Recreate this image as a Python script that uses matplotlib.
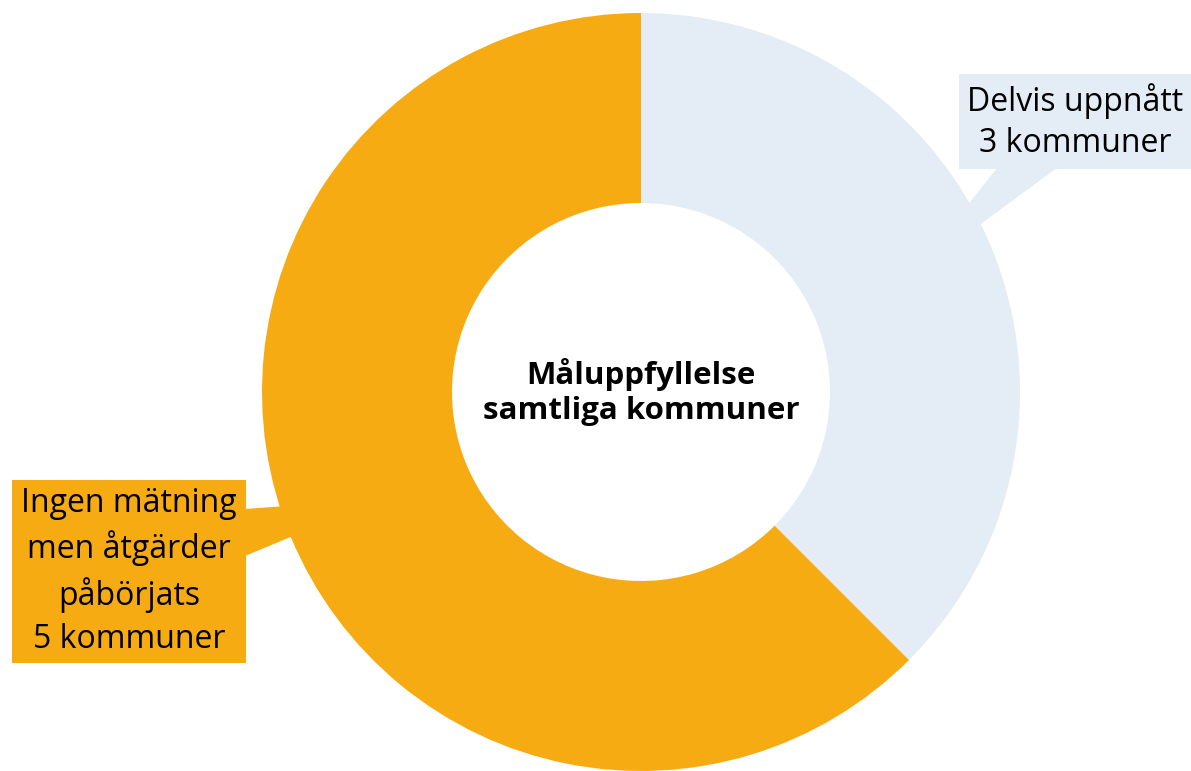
import matplotlib.pyplot as plt
from matplotlib.patches import Rectangle, Polygon

plt.rcParams['font.family'] = ['Open Sans', 'DejaVu Sans']

labels = ['Delvis uppnått', 'Ingen mätning\nmen åtgärder\npåbörjats']
counts = [3, 5]
colors = ['#E4EDF5', '#F6AB13']
title = 'Måluppfyllelse\nsamtliga kommuner'

W, H = 1191, 771
fig = plt.figure(figsize=(W / 100, H / 100), dpi=100)
ax = fig.add_axes([0, 0, 1, 1])

def Y(y):
    return H - y

# donut
ax.pie(counts, colors=colors, startangle=90, counterclock=False,
       radius=379, center=(641, Y(392)),
       wedgeprops=dict(width=190, linewidth=0))

ax.text(641, Y(392), title, ha='center', va='center', fontsize=22.5,
        fontweight='bold', linespacing=1.22)

# callout boxes
box1 = (959, 74, 1191, 169)
box2 = (12, 480, 246, 663)
ax.add_patch(Polygon([(997, Y(168)), (1057, Y(168)), (914, Y(273))],
                     closed=True, fc=colors[0], ec='none', zorder=3))
ax.add_patch(Rectangle((box1[0], Y(box1[3])), box1[2] - box1[0], box1[3] - box1[1],
                       fc=colors[0], ec='none', zorder=3))
ax.add_patch(Polygon([(245, Y(509)), (245, Y(556)), (382, Y(499))],
                     closed=True, fc=colors[1], ec='none', zorder=3))
ax.add_patch(Rectangle((box2[0], Y(box2[3])), box2[2] - box2[0], box2[3] - box2[1],
                       fc=colors[1], ec='none', zorder=3))

ax.text((box1[0] + box1[2]) / 2, Y((box1[1] + box1[3]) / 2),
        f'{labels[0]}\n{counts[0]} kommuner', ha='center', va='center',
        fontsize=23, linespacing=1.35, zorder=4, color='#000000')
ax.text((box2[0] + box2[2]) / 2, Y((box2[1] + box2[3]) / 2),
        f'{labels[1]}\n{counts[1]} kommuner', ha='center', va='center',
        fontsize=23, linespacing=1.4, zorder=4, color='#000000')

ax.set_xlim(0, W)
ax.set_ylim(0, H)
ax.set_aspect('equal')
ax.axis('off')
fig.savefig('out.png', dpi=100)
